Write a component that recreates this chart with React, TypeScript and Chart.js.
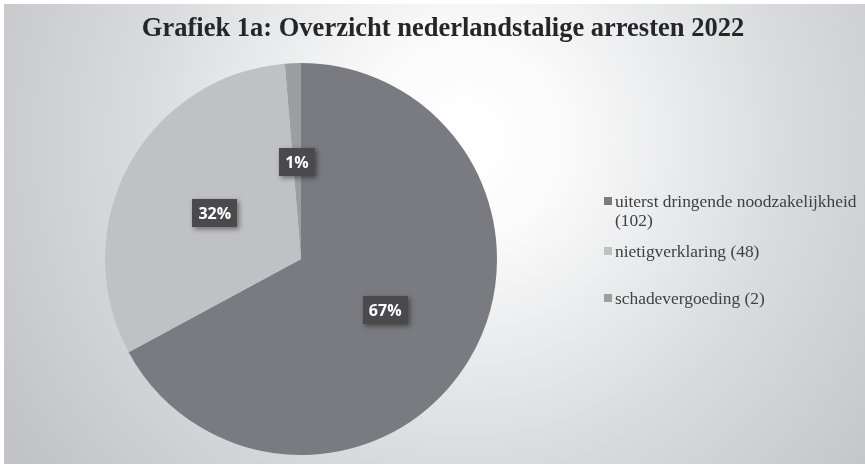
import React, { useEffect, useRef } from "react";
import { Chart, registerables } from "chart.js";
Chart.register(...registerables);

const chartTitle = "Grafiek 1a: Overzicht nederlandstalige arresten 2022";
const categories = ["uiterst dringende noodzakelijkheid", "nietigverklaring", "schadevergoeding"];
const counts = [102, 48, 2];
const sliceColors = ["#7a7b80", "#c0c1c5", "#9d9ea2"];

const total = counts.reduce((a, b) => a + b, 0);
const percentLabels = counts.map((v) => Math.round((v / total) * 100) + "%");
const legendTexts = categories.map((c, i) => `${c} (${counts[i]})`);

const W = 865;
const H = 464;

const backgroundPlugin = {
  id: "bgGradient",
  beforeDraw(chart: any) {
    const ctx = chart.ctx as CanvasRenderingContext2D;
    ctx.save();
    ctx.fillStyle = "#ffffff";
    ctx.fillRect(0, 0, W, H);
    const g = ctx.createRadialGradient(465, 140, 0, 465, 140, 540);
    g.addColorStop(0, "#ffffff");
    g.addColorStop(0.18, "#fbfbfb");
    g.addColorStop(0.6, "#dadbde");
    g.addColorStop(1, "#c2c3c7");
    ctx.fillStyle = g;
    ctx.fillRect(4, 4, W - 4, H - 4);
    ctx.restore();
  },
};

const titlePlugin = {
  id: "customTitle",
  afterDraw(chart: any) {
    const ctx = chart.ctx as CanvasRenderingContext2D;
    ctx.save();
    ctx.font = "bold 26.5px 'Liberation Serif', 'Times New Roman', serif";
    ctx.fillStyle = "#262626";
    ctx.textAlign = "center";
    ctx.textBaseline = "middle";
    ctx.fillText(chartTitle, 443, 29);
    ctx.restore();
  },
};

const dataLabelPlugin = {
  id: "sliceLabels",
  afterDatasetsDraw(chart: any) {
    const ctx = chart.ctx as CanvasRenderingContext2D;
    const meta = chart.getDatasetMeta(0);
    ctx.save();
    ctx.font = "bold 16px 'Open Sans', sans-serif";
    ctx.textAlign = "center";
    ctx.textBaseline = "middle";
    meta.data.forEach((arc: any, i: number) => {
      const p = arc.tooltipPosition(false);
      const text = percentLabels[i];
      const tw = ctx.measureText(text).width;
      const bw = tw + 12;
      const bh = 28;
      ctx.save();
      ctx.shadowColor = "rgba(0,0,0,0.45)";
      ctx.shadowBlur = 5;
      ctx.shadowOffsetX = 2;
      ctx.shadowOffsetY = 2;
      ctx.fillStyle = "#4a4a4d";
      ctx.fillRect(Math.round(p.x - bw / 2), Math.round(p.y - bh / 2) + 1, Math.round(bw), bh);
      ctx.restore();
      ctx.fillStyle = "#ffffff";
      ctx.fillText(text, p.x, p.y + 2);
    });
    ctx.restore();
  },
};

function wrapText(ctx: CanvasRenderingContext2D, text: string, maxWidth: number): string[] {
  const words = text.split(" ");
  const lines: string[] = [];
  let cur = "";
  for (const w of words) {
    const test = cur ? cur + " " + w : w;
    if (ctx.measureText(test).width > maxWidth && cur) {
      lines.push(cur);
      cur = w;
    } else {
      cur = test;
    }
  }
  if (cur) lines.push(cur);
  return lines;
}

const legendPlugin = {
  id: "customLegend",
  afterDraw(chart: any) {
    const ctx = chart.ctx as CanvasRenderingContext2D;
    const ds = chart.data.datasets[0];
    const labels = chart.data.labels as string[];
    const itemTops = [201, 251, 298];
    const lineH = 19;
    const boxX = 604;
    const textX = 615;
    ctx.save();
    ctx.font = "17.4px 'Liberation Serif', 'Times New Roman', serif";
    ctx.textBaseline = "middle";
    ctx.textAlign = "left";
    labels.forEach((lab, i) => {
      const lines = wrapText(ctx, lab, 248);
      const y0 = itemTops[i];
      ctx.fillStyle = ds.backgroundColor[i];
      ctx.fillRect(boxX, y0 - 4, 8, 8);
      ctx.fillStyle = "#404040";
      lines.forEach((ln, j) => ctx.fillText(ln, textX, y0 + 1 + j * lineH));
    });
    ctx.restore();
  },
};

export default function App() {
  const ref = useRef<HTMLCanvasElement | null>(null);
  useEffect(() => {
    document.body.style.margin = "0";
    const canvas = ref.current;
    if (!canvas) return;
    const chart = new Chart(canvas, {
      type: "pie",
      data: {
        labels: legendTexts,
        datasets: [
          {
            data: counts,
            backgroundColor: sliceColors,
            borderWidth: 0,
          },
        ],
      },
      options: {
        responsive: false,
        animation: false,
        devicePixelRatio: 1,
        layout: { padding: { left: 105, right: 368, top: 63, bottom: 9 } },
        plugins: {
          legend: { display: false },
          title: { display: false },
          tooltip: { enabled: false },
        },
      },
      plugins: [backgroundPlugin, dataLabelPlugin, titlePlugin, legendPlugin],
    });
    return () => chart.destroy();
  }, []);
  return <canvas ref={ref} width={W} height={H} style={{ display: "block" }} />;
}
